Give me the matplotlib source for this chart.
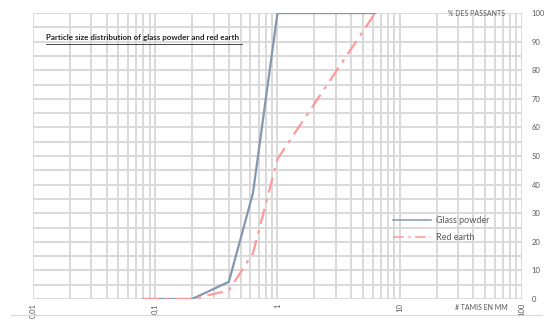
import matplotlib
matplotlib.use("Agg")
import matplotlib.pyplot as plt
from matplotlib.ticker import LogLocator, MultipleLocator, NullFormatter, FixedLocator

plt.rcParams['font.family'] = ['Lato', 'DejaVu Sans']

# sieve sizes (mm) and % passing
sizes = [0.08, 0.2, 0.4, 0.63, 1, 6.3]
glass_powder = [0, 0, 6, 37, 100, 100]
red_earth = [0, 0, 3, 16, 49, 100]

x_ticks = [0.01, 0.1, 1, 10, 100]
x_labels = ['0,01', '0,1', '1', '10', '100']
y_ticks = list(range(0, 101, 10))

fig = plt.figure(figsize=(5.5, 3.22), dpi=100)
ax = fig.add_axes([0.06, 0.0714, 0.889, 0.888])

ax.plot(sizes, glass_powder, color='#8497b0', lw=1.6, label='Glass powder', zorder=3)
ax.plot(sizes, red_earth, color='#ff9a9a', lw=1.6, ls=(0, (7, 3, 1.5, 3)), label='Red earth', zorder=3)

ax.set_xscale('log')
ax.set_xlim(0.01, 100)
ax.set_ylim(0, 100)

ax.xaxis.set_major_locator(FixedLocator(x_ticks))
ax.xaxis.set_minor_locator(LogLocator(base=10, subs=range(2, 10)))
ax.xaxis.set_minor_formatter(NullFormatter())
ax.set_xticklabels(x_labels, rotation=90, fontsize=5.5, color='#595959')
ax.yaxis.set_major_locator(FixedLocator(y_ticks))
ax.yaxis.set_minor_locator(MultipleLocator(5))
ax.yaxis.tick_right()
ax.tick_params(axis='y', labelsize=5.5, colors='#595959', length=0, pad=7)
ax.tick_params(axis='x', length=0, pad=3, colors='#595959')
ax.tick_params(which='minor', length=0)

ax.grid(True, which='both', color='#d9d9d9', lw=1.4)
ax.set_axisbelow(True)
for s in ax.spines.values():
    s.set_visible(False)

ax.text(0.027, 0.905, 'Particle size distribution of glass powder and red earth',
        transform=ax.transAxes, fontsize=5.8, color='#262626', fontweight='bold')
ax.plot([0.027, 0.428], [0.893, 0.893], transform=ax.transAxes, color='#262626', lw=0.6)
ax.text(0.965, 1.0, '% DES PASSANTS', transform=ax.transAxes, fontsize=5,
        color='#595959', ha='right', va='center')
ax.text(0.97, -0.03, '# TAMIS EN MM', transform=ax.transAxes, fontsize=5,
        color='#595959', ha='right', va='center')

leg = ax.legend(loc='center left', bbox_to_anchor=(0.72, 0.245), frameon=False,
                fontsize=6.5, handlelength=4.2, handletextpad=0.5, labelspacing=0.9)
for t in leg.get_texts():
    t.set_color('#595959')
for h in leg.get_lines():
    h.set_linewidth(1.1)

fig.add_artist(plt.Line2D([0.02, 0.985], [0.022, 0.022], color='#d9d9d9', lw=0.8))

fig.savefig('out.png', dpi=100)
